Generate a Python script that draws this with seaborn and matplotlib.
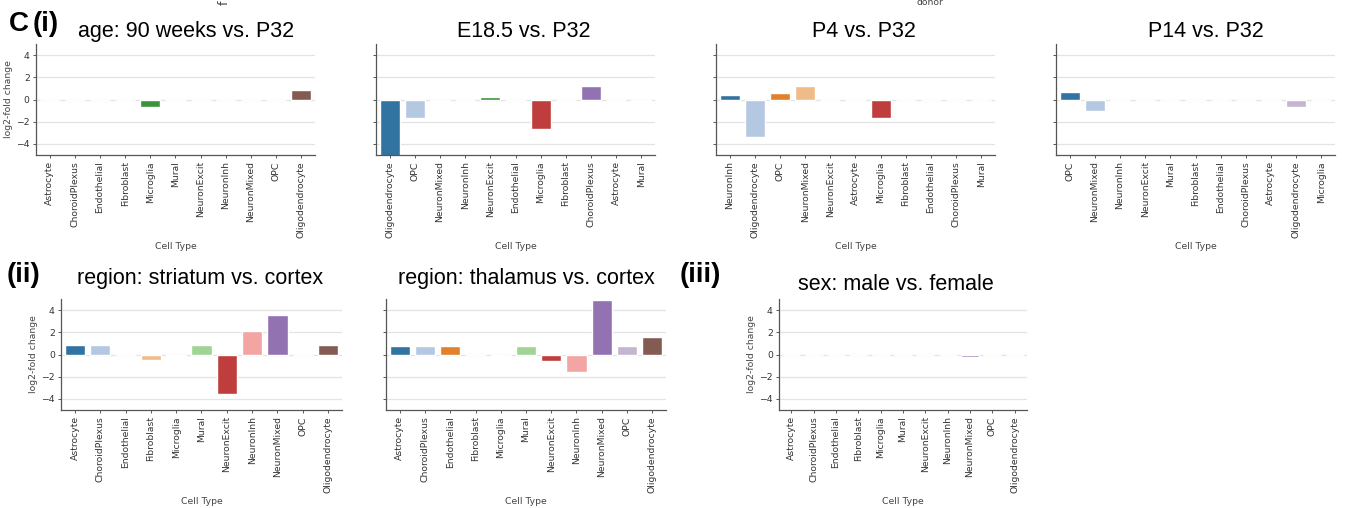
import matplotlib
matplotlib.use("Agg")
import matplotlib.pyplot as plt
import seaborn as sns

# ---------------- data ----------------
cats_age90 = ["Astrocyte", "ChoroidPlexus", "Endothelial", "Fibroblast", "Microglia", "Mural",
              "NeuronExcit", "NeuronInh", "NeuronMixed", "OPC", "Oligodendrocyte"]
lfc_age90 = [0, 0, 0, 0, -0.7, 0, 0, 0, 0, 0, 0.85]

cats_e185 = ["Oligodendrocyte", "OPC", "NeuronMixed", "NeuronInh", "NeuronExcit", "Endothelial",
             "Microglia", "Fibroblast", "ChoroidPlexus", "Astrocyte", "Mural"]
lfc_e185 = [-5.4, -1.65, -0.1, -0.05, 0.27, -0.05, -2.68, -0.05, 1.2, -0.05, -0.1]

cats_p4 = ["NeuronInh", "Oligodendrocyte", "OPC", "NeuronMixed", "NeuronExcit", "Astrocyte",
           "Microglia", "Fibroblast", "Endothelial", "ChoroidPlexus", "Mural"]
lfc_p4 = [0.45, -3.37, 0.57, 1.2, 0, 0, -1.68, 0, 0, 0, 0]

cats_p14 = ["OPC", "NeuronMixed", "NeuronInh", "NeuronExcit", "Mural", "Fibroblast", "Endothelial",
            "ChoroidPlexus", "Astrocyte", "Oligodendrocyte", "Microglia"]
lfc_p14 = [0.66, -1.0, 0, 0, 0, 0, 0, 0, 0, -0.69, 0]

cats_region = ["Astrocyte", "ChoroidPlexus", "Endothelial", "Fibroblast", "Microglia", "Mural",
               "NeuronExcit", "NeuronInh", "NeuronMixed", "OPC", "Oligodendrocyte"]
lfc_striatum = [0.9, 0.9, 0, -0.48, -0.18, 0.9, -3.6, 2.1, 3.6, 0, 0.9]
lfc_thalamus = [0.75, 0.75, 0.75, 0, -0.15, 0.75, -0.6, -1.56, 4.95, 0.75, 1.6]

cats_sex = cats_region
lfc_sex = [0, 0, 0, 0, 0, 0, 0, 0, -0.2, 0, 0]

yticks = [-4, -2, 0, 2, 4]

# ---------------- style ----------------
sns.set_theme(style="ticks")
plt.rcParams["font.family"] = ["DejaVu Sans"]

W, H = 1347, 508
fig = plt.figure(figsize=(W / 100, H / 100), dpi=100)
pal = sns.color_palette("tab20", 11)

def px_axes(left, top, right, bottom):
    return fig.add_axes([left / W, 1 - bottom / H, (right - left) / W, (bottom - top) / H])

def panel(ax, cats, vals, show_ylabels):
    sns.barplot(x=cats, y=vals, hue=cats, palette=pal, legend=False, ax=ax,
                order=cats, hue_order=cats, edgecolor="white", linewidth=1.0, width=0.8)
    ax.set_ylim(-5, 5)
    ax.set_yticks(yticks)
    ax.set_axisbelow(True)
    ax.yaxis.grid(True, color="#e3e3e3", lw=0.9)
    ax.xaxis.grid(False)
    sns.despine(ax=ax)
    for s in ("left", "bottom"):
        ax.spines[s].set_color("#555555")
        ax.spines[s].set_linewidth(0.9)
    ax.tick_params(axis="both", labelsize=6.7, length=2.5, width=0.7, pad=2,
                   colors="#555555", labelcolor="#333333")
    ax.tick_params(axis="x", labelrotation=90)
    ax.set_xlabel("Cell Type", fontsize=6.7, color="#444444", labelpad=3)
    if show_ylabels:
        ax.set_ylabel("log2-fold change", fontsize=6.7, color="#444444", labelpad=2)
    else:
        ax.set_ylabel("")
        ax.set_yticklabels([])
    ax.set_xlim(-0.55, len(cats) - 0.45)

row1_top, row1_bot = 44, 155
row2_top, row2_bot = 299, 410

ax1 = px_axes(36, row1_top, 315, row1_bot)
panel(ax1, cats_age90, lfc_age90, True)
ax2 = px_axes(376, row1_top, 655, row1_bot)
panel(ax2, cats_e185, lfc_e185, False)
ax3 = px_axes(716, row1_top, 995, row1_bot)
panel(ax3, cats_p4, lfc_p4, False)
ax4 = px_axes(1056, row1_top, 1335, row1_bot)
panel(ax4, cats_p14, lfc_p14, False)

ax5 = px_axes(61, row2_top, 342, row2_bot)
panel(ax5, cats_region, lfc_striatum, True)
ax6 = px_axes(386, row2_top, 666, row2_bot)
panel(ax6, cats_region, lfc_thalamus, False)
ax7 = px_axes(779, row2_top, 1027, row2_bot)
panel(ax7, cats_sex, lfc_sex, True)

# titles (Arial-like)
tfont = dict(family=["Liberation Sans", "DejaVu Sans"], fontsize=15.5, color="black",
             ha="center", va="baseline")
def ftext(x, y, s, **kw):
    fig.text(x / W, 1 - y / H, s, **kw)

ftext(186, 37, "age: 90 weeks vs. P32", **tfont)
ftext(524, 37, "E18.5 vs. P32", **tfont)
ftext(864, 37, "P4 vs. P32", **tfont)
ftext(1206, 37, "P14 vs. P32", **tfont)
ftext(200, 284, "region: striatum vs. cortex", **tfont)
ftext(526, 284, "region: thalamus vs. cortex", **tfont)
ftext(896, 290, "sex: male vs. female", **tfont)

lfont = dict(family=["Liberation Sans", "DejaVu Sans"], fontsize=20, fontweight="bold",
             color="black", ha="left", va="baseline")
ftext(9, 31, "C", **lfont)
ftext(33, 31, "(i)", **lfont)
ftext(7, 282, "(ii)", **lfont)
ftext(680, 282, "(iii)", **lfont)

# clipped remnants of neighbouring panels at the top edge
ftext(930, 5, "donor", fontsize=6.7, color="#444444", ha="center", va="baseline")
ftext(224, 5, "f", fontsize=9, color="#444444", ha="center", va="bottom", rotation=90)

fig.savefig("out.png", dpi=100)
